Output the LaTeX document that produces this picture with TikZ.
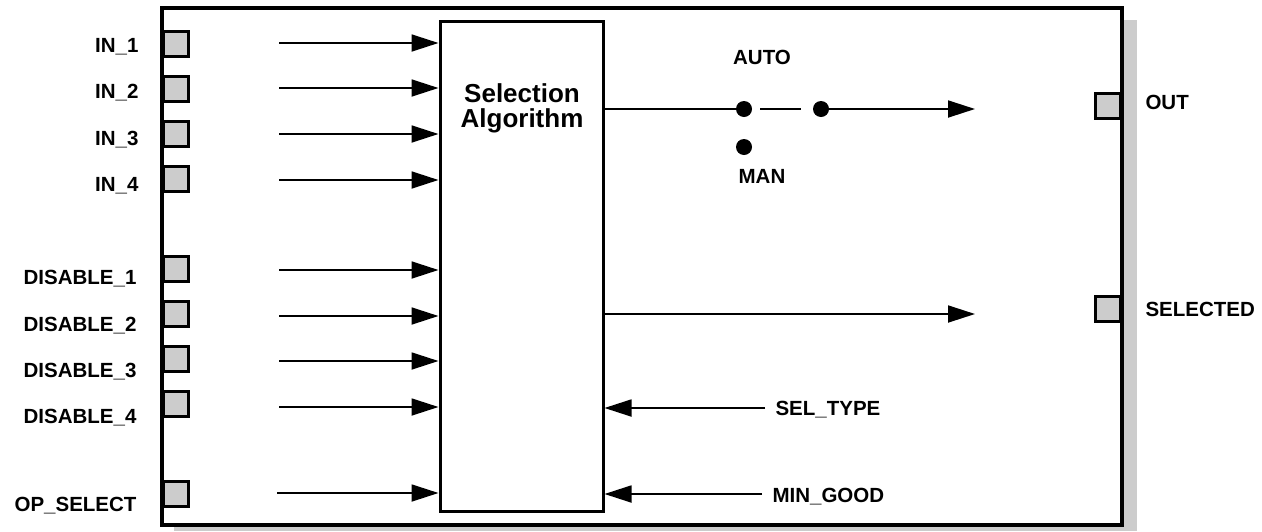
\documentclass[tikz,border=0pt]{standalone}
\usepackage{fontspec}
\setmainfont{Liberation Sans}
\usetikzlibrary{positioning}
\usetikzlibrary{arrows.meta}

\begin{document}
\begin{tikzpicture}[x=1pt, y=-1pt,
    font=\bfseries\fontsize{20.5}{24}\selectfont,
    port/.style={draw, line width=3pt, fill=black!20,
                 minimum width=25pt, minimum height=25pt, inner sep=0pt},
    sig/.style={line width=1.8pt, -{Triangle[length=27pt, width=17pt]}},
    dot/.style={circle, fill=black, minimum size=16pt, inner sep=0pt}]
    \useasboundingbox (0,0) rectangle (1262,531);
    % shadow and block frame
    \fill[black!20] (174,20) rectangle (1137,531);
    \node[draw,
          fill=white,
          line width=3.5pt,
          minimum width=960pt,
          minimum height=517pt] (blk) at (642,266.5) {};
    \node[draw,
          line width=3pt,
          minimum width=163pt,
          minimum height=490pt] (alg) at (521.5,266) {};
    \node[font=\bfseries\fontsize{26}{24.5}\selectfont,
          align=center,
          inner sep=0pt] (algtxt) at (522,108.5) {Selection\\Algorithm};
    % inputs
    \node[port] (in1) at (176,44) {};
    \node[port] (in2) at (176,89) {};
    \node[port] (in3) at (176,134) {};
    \node[port] (in4) at (176,179) {};
    \node[port] (dis1) at (176,269) {};
    \node[port] (dis2) at (176,314) {};
    \node[port] (dis3) at (176,359) {};
    \node[port] (dis4) at (176,404) {};
    \node[port] (opsel) at (176,494) {};
    \node[anchor=base east] (in1txt) at (142,52) {IN\_1};
    \node[anchor=base east] (in2txt) at (142,98) {IN\_2};
    \node[anchor=base east] (in3txt) at (142,145) {IN\_3};
    \node[anchor=base east] (in4txt) at (142,191) {IN\_4};
    \node[anchor=base east] (dis1txt) at (140,284) {DISABLE\_1};
    \node[anchor=base east] (dis2txt) at (140,331) {DISABLE\_2};
    \node[anchor=base east] (dis3txt) at (140,377) {DISABLE\_3};
    \node[anchor=base east] (dis4txt) at (140,423) {DISABLE\_4};
    \node[anchor=base east] (opseltxt) at (140,511) {OP\_SELECT};
    \coordinate (in1src) at (279,43);
    \coordinate (in2src) at (279,88);
    \coordinate (in3src) at (279,134);
    \coordinate (in4src) at (279,180);
    \coordinate (dis1src) at (279,270);
    \coordinate (dis2src) at (279,316);
    \coordinate (dis3src) at (279,361);
    \coordinate (dis4src) at (279,407);
    \coordinate (opselsrc) at (277,493);
    \draw[sig] (in1src) -- (in1src -| alg.west);
    \draw[sig] (in2src) -- (in2src -| alg.west);
    \draw[sig] (in3src) -- (in3src -| alg.west);
    \draw[sig] (in4src) -- (in4src -| alg.west);
    \draw[sig] (dis1src) -- (dis1src -| alg.west);
    \draw[sig] (dis2src) -- (dis2src -| alg.west);
    \draw[sig] (dis3src) -- (dis3src -| alg.west);
    \draw[sig] (dis4src) -- (dis4src -| alg.west);
    \draw[sig] (opselsrc) -- (opselsrc -| alg.west);
    % auto/man switch
    \node[dot] (auto) at (744,109) {};
    \node[dot] (pole) at (821,109) {};
    \node[dot] (man) at (744,147) {};
    \node[anchor=base] (autotxt) at (762,64) {AUTO};
    \node[anchor=base] (mantxt) at (762,183) {MAN};
    \draw[line width=1.8pt] (auto -| alg.east) -- (auto);
    \draw[line width=1.8pt] ([xshift=16pt]auto.center) -- ([xshift=-20pt]pole.center);
    \coordinate (outtip) at (975,109);
    \coordinate (seltip) at (975,314);
    \draw[sig] (pole) -- (outtip);
    \draw[sig] (seltip -| alg.east) -- (seltip);
    % outputs
    \node[port] (out) at (1108,106) {};
    \node[port] (sel) at (1108,309) {};
    \node[anchor=base west] (outtxt) at (1142,109) {OUT};
    \node[anchor=base west] (seltxt) at (1142,316) {SELECTED};
    % parameters
    \node[anchor=base west] (seltype) at (772,415) {SEL\_TYPE};
    \node[anchor=base west] (mingood) at (769,502) {MIN\_GOOD};
    \coordinate (seltypesrc) at (765,408);
    \coordinate (mingoodsrc) at (762,494);
    \draw[sig] (seltypesrc) -- (seltypesrc -| alg.east);
    \draw[sig] (mingoodsrc) -- (mingoodsrc -| alg.east);
\end{tikzpicture}
\end{document}
